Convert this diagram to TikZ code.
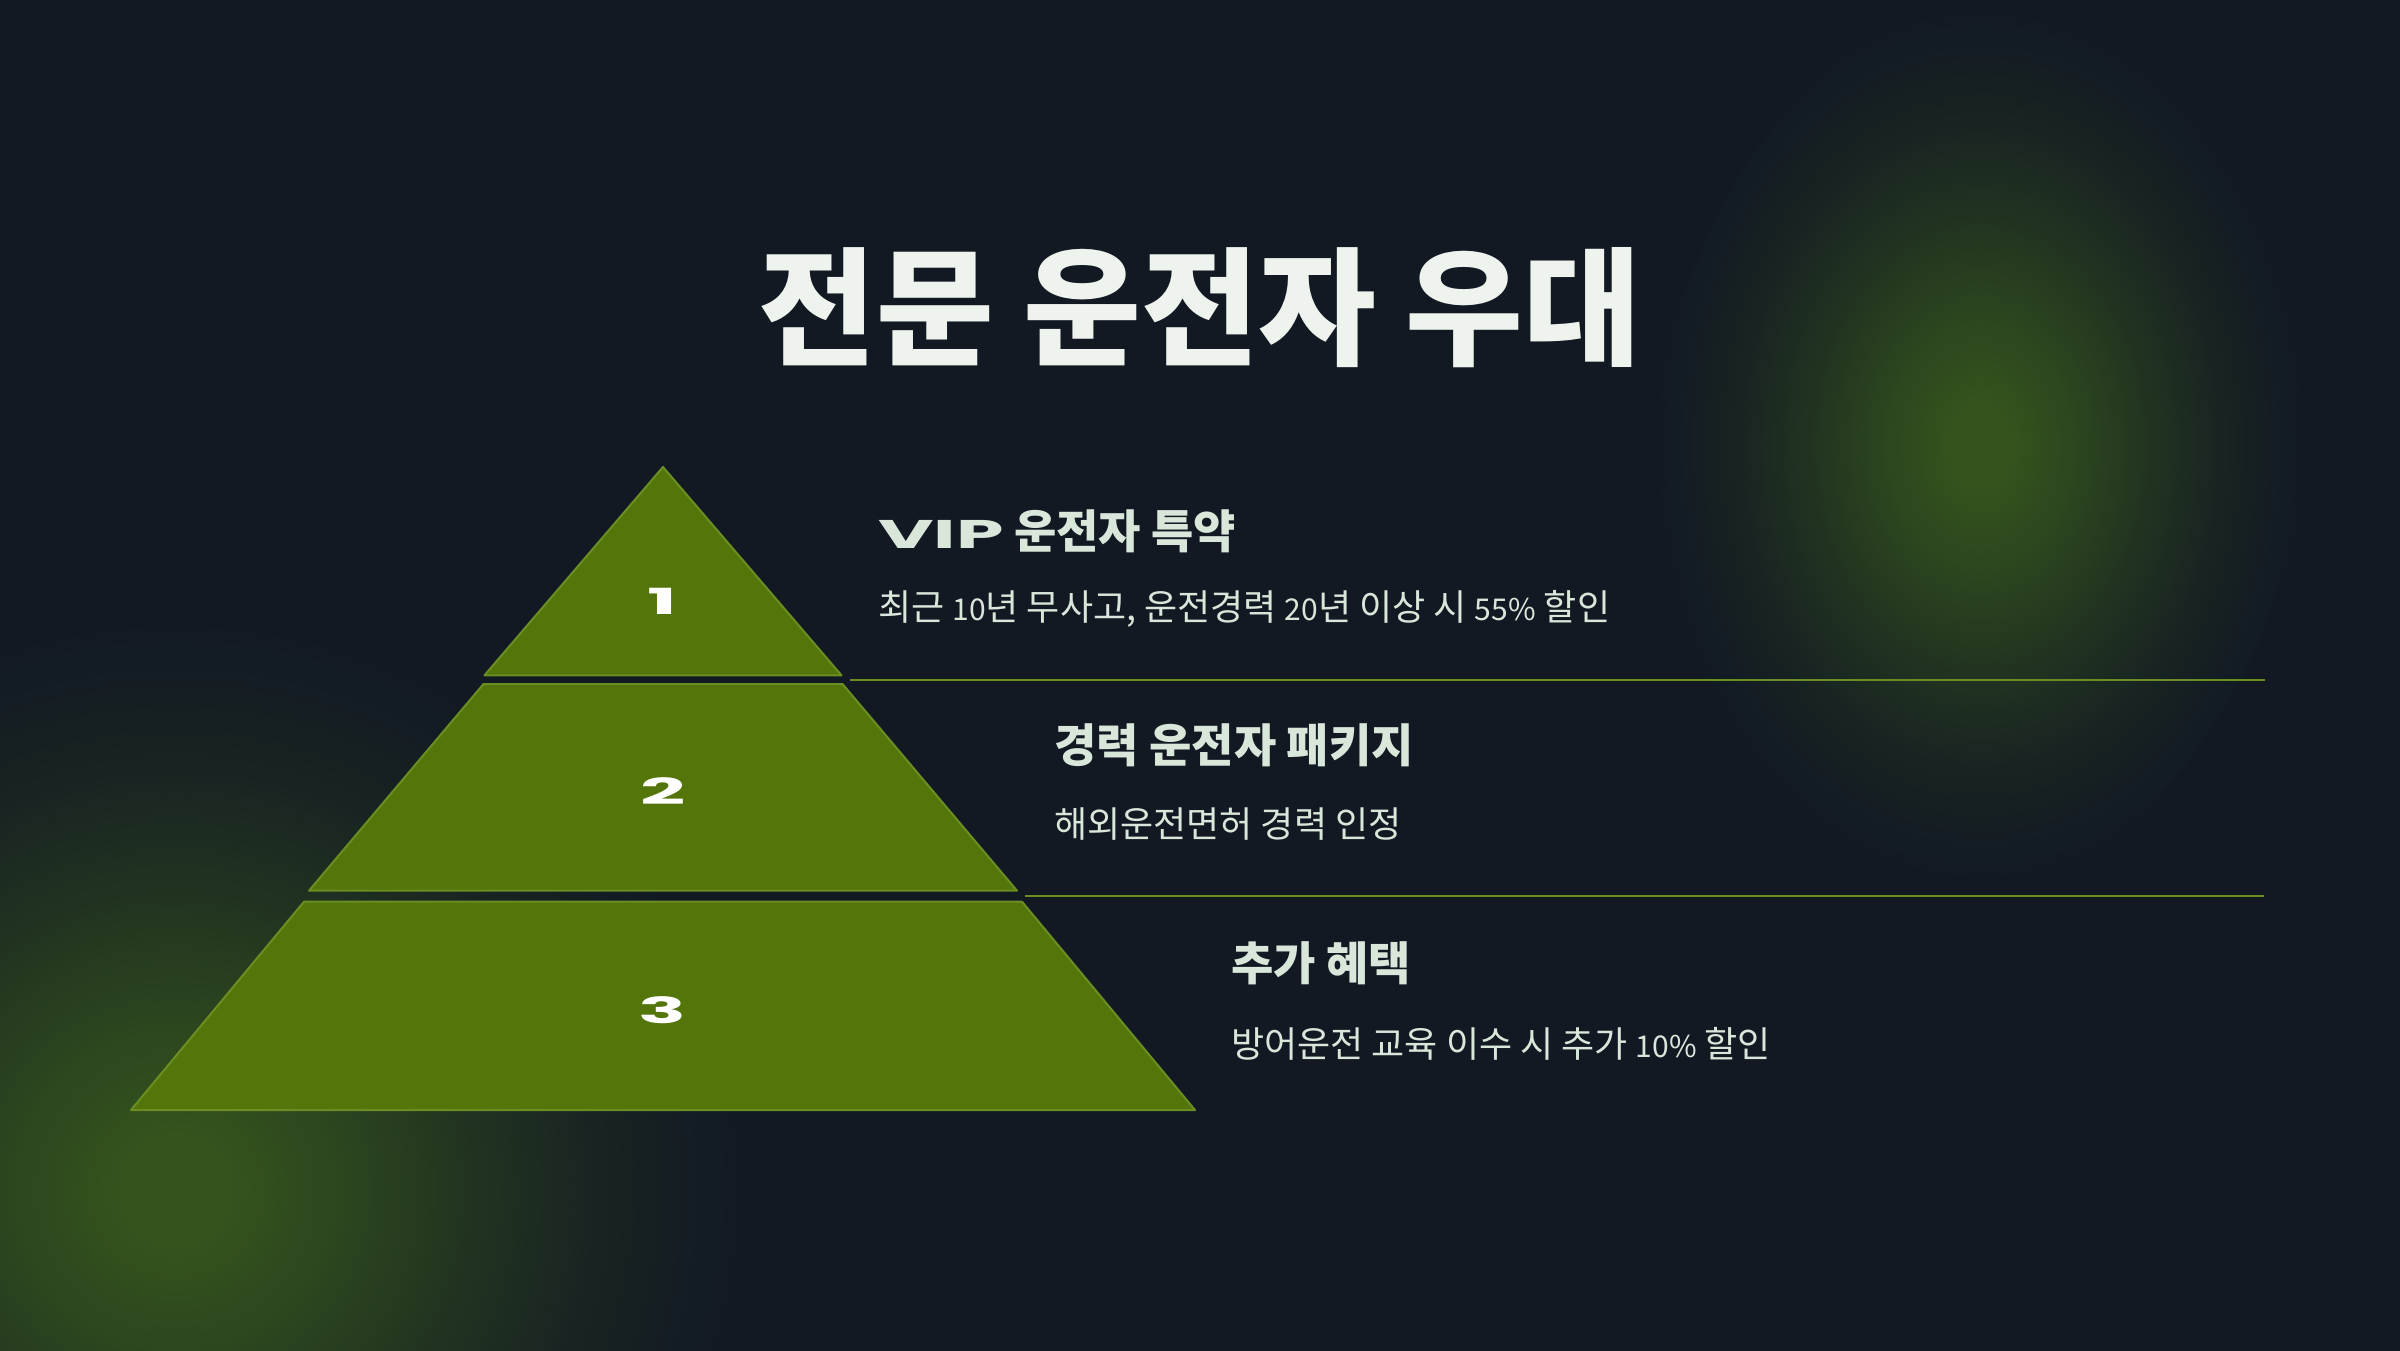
\documentclass[tikz,border=0pt]{standalone}
\usepackage{fontspec}
\newfontfamily\kr{Noto Sans CJK KR}
\newfontfamily\wide[FakeStretch=1.9]{Poppins}
\newfontfamily\widenum[FakeStretch=2.2]{Poppins}
\newcommand\smalldig[1]{{\fontsize{30}{32}\selectfont #1}}
\definecolor{bgc}{HTML}{121923}
\definecolor{glowc}{HTML}{34531D}
\definecolor{tierfill}{HTML}{53750A}
\definecolor{tieredge}{HTML}{6B8E23}
\definecolor{titlec}{HTML}{EEF3EE}
\definecolor{textc}{HTML}{D9E6DA}
\pgfdeclareradialshading{glow}{\pgfpoint{0bp}{0bp}}{color(0bp)=(glowc); color(2bp)=(glowc); color(6bp)=(glowc!78!bgc); color(11bp)=(glowc!45!bgc); color(16bp)=(glowc!16!bgc); color(21bp)=(bgc); color(50bp)=(bgc)}
\tikzset{
  tier/.style={fill=tierfill, draw=tieredge, line width=2pt, line join=round},
  num/.style={text=white, inner sep=0pt, font=\widenum\bfseries\fontsize{36}{36}\selectfont},
  sep/.style={draw=tieredge, line width=2pt},
  headtxt/.style={text=textc, anchor=west, inner sep=0pt, font=\kr\bfseries\fontsize{46}{50}\selectfont},
  desctxt/.style={text=textc, anchor=west, inner sep=0pt, font=\kr\fontsize{36}{40}\selectfont},
}
\begin{document}
\begin{tikzpicture}[x=1pt,y=-1pt]
\path[use as bounding box] (0,0) rectangle (2400,1350);
\fill[bgc] (-20,-20) rectangle (2420,1370);
% glows
\shade[shading=glow, rotate around={-15:(1980,445)}] (1980,445) ellipse (330 and 490);
\shade[shading=glow] (175,1190) circle (680);
% title
\node[text=titlec, inner sep=0pt, font=\kr\bfseries\fontsize{128}{140}\selectfont] (title) at (1200,308) {전문 운전자 우대};
% pyramid
\draw[tier] (663,467) -- (841.5,675.3) -- (484.5,675.3) -- cycle;
\draw[tier] (483.5,684) -- (842.5,684) -- (1017,890.7) -- (309,890.7) -- cycle;
\draw[tier] (304,901.7) -- (1022,901.7) -- (1195,1110) -- (131,1110) -- cycle;
\node[num] (n1) at (662,601) {1};
\node[num] (n2) at (663,791) {2};
\node[num] (n3) at (662,1010) {3};
% separators
\coordinate (l1a) at (850,680);
\coordinate (l1b) at (2265,680);
\coordinate (l2a) at (1025,896);
\coordinate (l2b) at (2264,896);
\draw[sep] (l1a) -- (l1b);
\draw[sep] (l2a) -- (l2b);
% texts
\node[headtxt] (h1) at (878,531) {{\wide\bfseries\fontsize{40}{40}\selectfont VIP} 운전자 특약};
\node[desctxt] (d1) at (878,609) {최근 \smalldig{10}년 무사고, 운전경력 \smalldig{20}년 이상 시 \smalldig{55\%} 할인};
\node[headtxt] (h2) at (1054,745) {경력 운전자 패키지};
\node[desctxt] (d2) at (1054,824) {해외운전면허 경력 인정};
\node[headtxt] (h3) at (1231,963) {추가 혜택};
\node[desctxt] (d3) at (1231,1044) {방어운전 교육 이수 시 추가 \smalldig{10\%} 할인};
\end{tikzpicture}
\end{document}
